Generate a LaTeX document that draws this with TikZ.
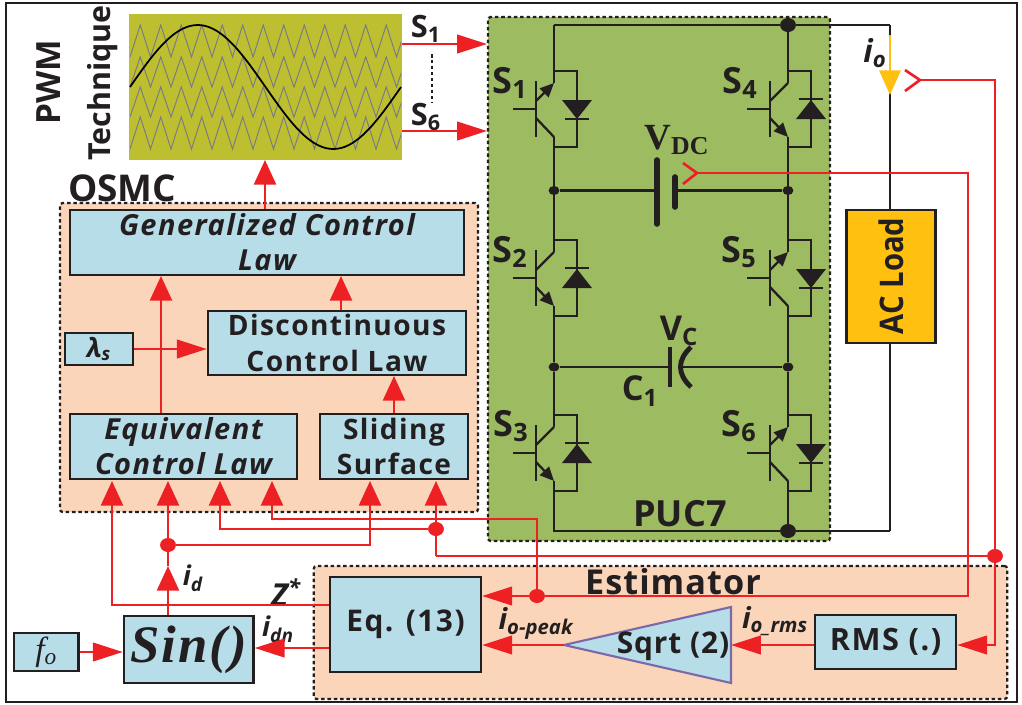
\documentclass[tikz,border=0pt]{standalone}
\usepackage{xcolor}
\usepackage{fontspec}
\setmainfont{Open Sans}
\newfontfamily\timesfnt{Liberation Serif}
\usetikzlibrary{arrows.meta, positioning, shapes.geometric}
\definecolor{sigred}{HTML}{ED2024}
\definecolor{blkblue}{HTML}{B7DDE8}
\definecolor{peach}{HTML}{FAD5B9}
\definecolor{pucgreen}{HTML}{9DBB61}
\definecolor{pwmgreen}{HTML}{BDBF30}
\definecolor{loadamber}{HTML}{FFC00F}
\definecolor{inkblack}{HTML}{231F20}
\definecolor{trililac}{HTML}{7B68A8}
\definecolor{carriergray}{HTML}{7A7A85}
\begin{document}
\begin{tikzpicture}[
    x=0.02cm, y=-0.02cm,
    txt/.style={text=inkblack, inner sep=0pt, align=center},
    blk/.style={draw=inkblack, line width=1.4pt, fill=blkblue, txt,
                font=\fontsize{16}{20}\selectfont\bfseries\addfontfeature{LetterSpace=5}},
    blki/.style={blk, font=\fontsize{16.5}{20}\selectfont\bfseries\itshape\addfontfeature{LetterSpace=5}},
    region/.style={draw=inkblack, line width=1.3pt, dash pattern=on 2pt off 1.6pt,
                   rounded corners=1.5pt},
    lbl/.style={txt, font=\fontsize{20.5}{20}\selectfont\bfseries},
    cur/.style={txt, font=\fontsize{15.5}{15}\selectfont\bfseries\itshape},
    wire/.style={draw=inkblack, line width=1.3pt},
    plate/.style={draw=inkblack, line width=3.2pt, line cap=round},
    sigline/.style={draw=sigred, line width=1.5pt},
    sig/.style={sigline, -{Triangle[length=14pt,width=12.5pt]}},
    sigh/.style={sigline, -{Triangle[length=17pt,width=10.5pt]}},
    sensor/.style={draw=sigred, line width=1.5pt},
    sigdot/.style={ellipse, fill=sigred, inner sep=0pt, minimum width=9pt, minimum height=8pt},
    bigdot/.style={ellipse, fill=inkblack, inner sep=0pt, minimum width=9pt, minimum height=8pt},
    smalldot/.style={ellipse, fill=inkblack, inner sep=0pt, minimum width=6.2pt, minimum height=5.2pt},
    igbtbody/.pic={
        \draw[wire] (-41,0) -- (-18,0);
        \draw[wire, line width=1.5pt] (-18,-28) -- (-18,28);
        \draw[wire] (0,-26) -- (0,-38) -- (23,-38) -- (23,38) -- (0,38) -- (0,28);
    },
    igbtup/.pic={
        \pic {igbtbody};
        \coordinate (-top) at (0,-38);
        \coordinate (-bot) at (0,38);
        \draw[wire, -{Triangle[length=8pt,width=7pt]}] (-18,-8) -- (0,-26);
        \draw[wire] (-18,9) -- (0,28);
        \fill[inkblack] (8,-9) -- (38,-9) -- (23,10) -- cycle;
        \draw[wire] (11,10) -- (35,10);
    },
    igbtdown/.pic={
        \pic {igbtbody};
        \coordinate (-top) at (0,-38);
        \coordinate (-bot) at (0,38);
        \draw[wire] (-18,-8) -- (0,-26);
        \draw[wire, -{Triangle[length=8pt,width=7pt]}] (-18,9) -- (0,28);
        \fill[inkblack] (8,10) -- (38,10) -- (23,-9) -- cycle;
        \draw[wire] (11,-10) -- (35,-10);
    },
]
\useasboundingbox (0,0) rectangle (1022,704);
% outer frame and regions
\node[draw=inkblack, line width=1.4pt, minimum width=20.22cm, minimum height=13.98cm, inner sep=0pt] (frame) at (511.5,352.5) {};
\node[region, fill=pucgreen, minimum width=6.84cm, minimum height=10.48cm, inner sep=0pt] (puc) at (659,279) {};
\node[region, fill=peach, minimum width=8.36cm, minimum height=6.18cm, inner sep=0pt] (osmc) at (269,357.5) {};
\node[region, fill=peach, minimum width=13.87cm, minimum height=2.66cm, inner sep=0pt] (estim) at (660.5,632.5) {};
% pwm carrier picture
\node[fill=pwmgreen, minimum width=5.46cm, minimum height=2.92cm, inner sep=0pt] (pwm) at (265.5,87) {};
\begin{scope}
\clip (130,14) rectangle (401,160);
\foreach \rowtop/\rowbot in {25/57,57/87,87/117,117/149}
  \draw[draw=carriergray, line width=0.55pt] plot[samples at={0,...,27}]
     ({130+10.25*\x},{mod(\x,2)==0 ? \rowbot : \rowtop});
\end{scope}
\draw[draw=black, line width=1pt] plot[domain=0:360, samples=73, smooth]
     ({130+0.7528*\x},{87-62*sin(\x)});
% converter
\pic (s1) at (554,109) {igbtup};
\pic (s4) at (788,109) {igbtdown};
\pic (s2) at (554,278) {igbtdown};
\pic (s5) at (788,278) {igbtup};
\pic (s3) at (554,453) {igbtdown};
\pic (s6) at (788,453) {igbtup};
\node[bigdot] (tr) at (788,25) {};
\node[bigdot] (br) at (788,531) {};
\node[smalldot] (dcl) at (554,190.5) {};
\node[smalldot] (dcr) at (788,190.5) {};
\node[smalldot] (cl) at (554,367) {};
\node[smalldot] (cr) at (788,367) {};
\coordinate (tl) at (554,25);
\coordinate (bl) at (554,531);
\coordinate (loadtop) at (890,25);
\coordinate (loadbot) at (890,531);
\coordinate (dcm) at (657,190.5);
\coordinate (dcp) at (675,190.5);
\coordinate (capm) at (670,367);
\coordinate (capp) at (681,367);
\draw[wire] (tl) -- (s1-top);
\draw[wire] (s1-bot) -- (dcl) -- (s2-top);
\draw[wire] (s2-bot) -- (cl) -- (s3-top);
\draw[wire] (s3-bot) -- (bl) -- (br) -- (loadbot);
\draw[wire] (tl) -- (tr) -- (loadtop);
\draw[wire] (tr) -- (s4-top);
\draw[wire] (s4-bot) -- (dcr) -- (s5-top);
\draw[wire] (s5-bot) -- (cr) -- (s6-top);
\draw[wire] (s6-bot) -- (br);
\draw[wire] (dcl) -- (dcm);
\draw[wire] (dcp) -- (dcr);
\draw[wire] (cl) -- (capm);
\draw[wire] (capp) -- (cr);
\draw[plate] (657,160) -- (657,224);
\draw[plate] (675,177) -- (675,207);
\draw[wire, line width=2.8pt] (670,347) -- (670,387);
\draw[wire, line width=2.8pt] (691,347) .. controls (677,360) and (677,374) .. (691,387);
% load
\node[draw=inkblack, line width=1.2pt, fill=loadamber, minimum width=1.78cm, minimum height=2.66cm, inner sep=0pt] (load) at (891,276.5) {};
\node[lbl, rotate=90, font=\fontsize{18.5}{20}\selectfont\bfseries] (loadtxt) at (891,276) {\scalebox{.9}[1]{AC Load}};
\draw[wire] (loadtop) -- (load.north -| loadtop);
\draw[wire] (load.south -| loadbot) -- (loadbot);
\draw[draw=loadamber, line width=1.6pt, -{Triangle[length=14pt,width=12pt]}] (890,35) -- (890,95);
% control blocks
\node[blki, minimum width=7.88cm, minimum height=1.3cm] (gen) at (267,242.5) {Generalized Control\\Law};
\node[blk, minimum width=5.16cm, minimum height=1.28cm] (disc) at (337,343) {Discontinuous\\Control Law};
\node[blk, minimum width=1.36cm, minimum height=0.64cm, font=\fontsize{15}{16}\selectfont\bfseries\itshape] (lam) at (99,349) {λ\textsubscript{s}};
\node[blki, minimum width=4.54cm, minimum height=1.3cm] (equ) at (183.5,446.5) {Equivalent\\Control Law};
\node[blk, minimum width=2.96cm, minimum height=1.3cm] (slid) at (394,446.5) {Sliding\\Surface};
\node[blk, minimum width=3.02cm, minimum height=1.9cm, font=\fontsize{17}{20}\selectfont\bfseries\addfontfeature{LetterSpace=5}] (eqn) at (405.5,624.5) {Eq. (13)};
\node[blk, minimum width=2.82cm, minimum height=1.08cm, font=\fontsize{17.5}{20}\selectfont\bfseries\addfontfeature{LetterSpace=5}] (rms) at (885.5,642) {RMS (.)};
\node[blk, minimum width=2.59cm, minimum height=1.34cm, font=\timesfnt\fontsize{30}{30}\selectfont\bfseries\itshape\addfontfeature{LetterSpace=4}] (sin) at (188.75,649.5) {Sin()};
\node[blk, line width=1.2pt, minimum width=1.29cm, minimum height=0.76cm, font=\timesfnt\fontsize{19}{19}\selectfont\itshape] (fo) at (46.25,652) {f\textsubscript{o}};
\coordinate (sqrttip) at (564,645);
\coordinate (sqrtbase) at (731,645);
\draw[draw=trililac, line width=1.2pt, fill=blkblue] (sqrttip) -- (731,607) -- (731,683) -- cycle;
\node[txt, font=\fontsize{17}{20}\selectfont\bfseries\addfontfeature{LetterSpace=3}] (sqrt) at (673,646) {Sqrt (2)};
% texts
\node[txt, font=\fontsize{19}{20}\selectfont\bfseries, rotate=90] (pwmtxt) at (49,82) {PWM};
\node[txt, font=\fontsize{17.3}{20}\selectfont\bfseries, rotate=90] (techtxt) at (103,83) {Technique};
\node[lbl, font=\fontsize{21}{20}\selectfont\bfseries] (osmctxt) at (122,188) {OSMC};
\node[lbl, font=\fontsize{19.5}{20}\selectfont\bfseries\addfontfeature{LetterSpace=3}] (esttxt) at (673,582) {Estimator};
\node[lbl] (puctxt) at (680,514) {PUC7};
\node[lbl] (s1lab) at (510,83) {S\textsubscript{1}};
\node[lbl] (s4lab) at (740,83) {S\textsubscript{4}};
\node[lbl] (s2lab) at (510,252) {S\textsubscript{2}};
\node[lbl] (s5lab) at (739,252) {S\textsubscript{5}};
\node[lbl] (s3lab) at (511,426) {S\textsubscript{3}};
\node[lbl] (s6lab) at (739,426) {S\textsubscript{6}};
\node[lbl, font=\fontsize{17.5}{20}\selectfont\bfseries] (s1out) at (426,29) {S\textsubscript{1}};
\node[lbl, font=\fontsize{17.5}{20}\selectfont\bfseries] (s6out) at (426,117) {S\textsubscript{6}};
\node[lbl, font=\timesfnt\fontsize{21}{20}\selectfont\bfseries] (vdc) at (677,140) {V\textsubscript{DC}};
\node[lbl, font=\fontsize{19.5}{20}\selectfont\bfseries] (vc) at (679,331) {V\textsubscript{C}};
\node[lbl, font=\fontsize{19.5}{20}\selectfont\bfseries] (c1) at (640,391) {C\textsubscript{1}};
\node[cur, font=\fontsize{18}{15}\selectfont\bfseries\itshape] (iolab) at (875,53) {i\textsubscript{o}};
\node[cur] (idlab) at (193,578) {i\textsubscript{d}};
\node[cur] (idnlab) at (278,629) {i\textsubscript{dn}};
\node[cur, font=\fontsize{18}{15}\selectfont\bfseries\itshape] (zlab) at (286,592) {Z\textsuperscript{*}};
\node[cur, font=\fontsize{16.5}{15}\selectfont\bfseries\itshape] (ipk) at (536,623) {i\textsubscript{o-peak}};
\node[cur, font=\fontsize{16.5}{15}\selectfont\bfseries\itshape] (irms) at (775,621) {i\textsubscript{o\_rms}};
% signal junctions
\node[sigdot] (jd) at (168,545) {};
\node[sigdot] (js) at (436,529) {};
\node[sigdot] (ji) at (995,556) {};
\node[sigdot] (jv) at (537,596) {};
\coordinate (idtip) at (168,566);
\coordinate (sensv) at (697,173);
\coordinate (sensi) at (920,80);
\coordinate (zup) at (112,605);
\coordinate (a3) at (220,529);
\coordinate (a4) at (272,519);
\coordinate (b1) at (537,519);
\coordinate (vc1) at (968,173);
\coordinate (vc2) at (968,596);
\coordinate (ic1) at (995,80);
\coordinate (ic2) at (995,645);
\coordinate (ic3) at (436,556);
\coordinate (sw1) at (370,545);
% signals
\draw[sigh] (pwm.east |- 0,44) -- (487,44);
\draw[sigh] (pwm.east |- 0,131) -- (487,131);
\draw[draw=inkblack, line width=1.5pt, dash pattern=on 2pt off 1.4pt] (432,54) -- (432,102);
\draw[sig] (gen.north -| 265,0) -- (265,160);
\draw[sig] (equ.north -| 161,0) -- (161,276);
\draw[sig] (disc.north -| 341,0) -- (341,276);
\draw[sig] (slid.north -| 394,0) -- (394,376);
\draw[sigh] (lam.east) -- (disc.west |- lam.east);
\draw[sig] (eqn.west |- zup) -- (zup) -- (112,481);
\draw[sig] (sin.north -| idtip) -- (idtip);
\draw[sigline] (idtip) -- (jd);
\draw[sig] (jd) -- (168,481);
\draw[sig] (jd) -- (sw1) -- (370,481);
\draw[sig] (ic3) -- (js) -- (436,481);
\draw[sig] (js) -- (a3) -- (220,481);
\draw[sig] (jv) -- (b1) -- (a4) -- (272,481);
\draw[sigline] (ji) -- (ic3);
\draw[sigline] (sensi) -- (ic1) -- (ji);
\draw[sigh] (ji) -- (ic2) -- (rms.east |- ic2);
\draw[sigline] (sensv) -- (vc1) -- (vc2) -- (jv);
\draw[sigh] (jv) -- (eqn.east |- jv);
\draw[sensor] (683,163) -- (sensv) -- (683,184);
\draw[sensor] (905,70) -- (sensi) -- (905,91);
\draw[sigh] (rms.west |- sqrtbase) -- (sqrtbase);
\draw[sigh] (sqrttip) -- (eqn.east |- sqrttip);
\draw[sigh] (eqn.west |- 0,648) -- (sin.east |- 0,648);
\draw[sigh] (fo.east) -- (sin.west |- fo.east);
\end{tikzpicture}
\end{document}
